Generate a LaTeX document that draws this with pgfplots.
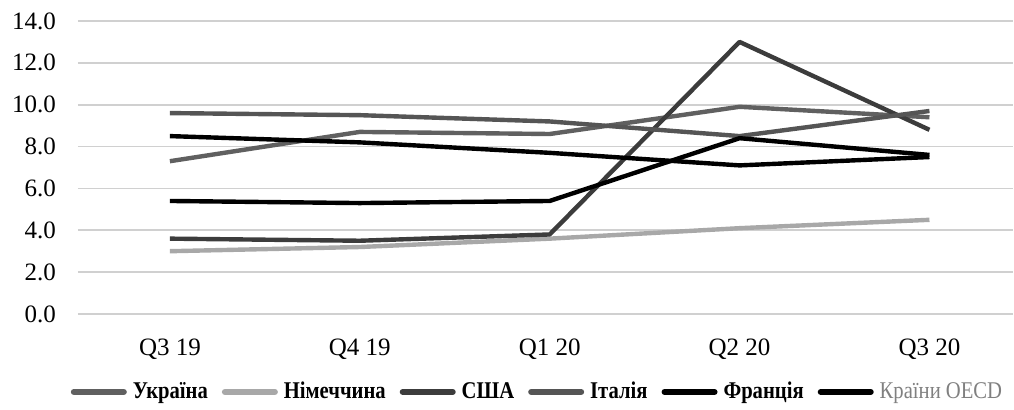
\documentclass[border=0pt]{standalone}
\usepackage{fontspec}
\setmainfont{Liberation Serif}
\newfontfamily\legfont[FakeStretch=0.86]{Liberation Serif}
\usepackage{pgfplots}
\pgfplotsset{compat=1.18}

\definecolor{ukr}{HTML}{606060}
\definecolor{ger}{HTML}{A8A8A8}
\definecolor{usa}{HTML}{3C3C3C}
\definecolor{ita}{HTML}{555555}
\definecolor{gridgray}{HTML}{D0D0D0}

\begin{document}
\begin{tikzpicture}
\begin{axis}[
    scale only axis,
    width=467.5bp, height=146.5bp,
    xmin=-0.484, xmax=4.44,
    ymin=0, ymax=14,
    ytick={0,2,...,14},
    xtick={0,1,2,3,4},
    xticklabels={Q3 19,Q4 19,Q1 20,Q2 20,Q3 20},
    axis line style={draw=none},
    major tick length=0pt,
    ymajorgrids, xmajorgrids=false,
    grid style={draw=gridgray, line width=0.8bp},
    tick label style={font=\fontsize{12.5bp}{14bp}\selectfont},
    xticklabel style={yshift=-9bp},
    yticklabel style={xshift=-7.5bp},
    /pgf/number format/.cd, fixed, fixed zerofill, precision=1, assume math mode=true,
    /pgfplots/.cd,
    legend columns=6,
    legend style={at={(0.4925,-0.266)}, anchor=center, draw=none, fill=none,
        font=\legfont\fontsize{12bp}{14bp}\selectfont\bfseries,
        /tikz/every even column/.append style={column sep=5bp},
        /tikz/every odd column/.append style={column sep=1bp}},
    legend image code/.code={\draw[#1, line width=3bp, line cap=round] (0bp,0bp) -- (25bp,0bp);},
    every axis plot/.append style={line width=2.2bp, line join=round},
]
\addplot[ukr] coordinates {(0,7.3) (1,8.7) (2,8.6) (3,9.9) (4,9.4)};
\addlegendentry{Україна}
\addplot[ger] coordinates {(0,3.0) (1,3.2) (2,3.6) (3,4.1) (4,4.5)};
\addlegendentry{Німеччина}
\addplot[usa] coordinates {(0,3.6) (1,3.5) (2,3.8) (3,13.0) (4,8.8)};
\addlegendentry{США}
\addplot[ita] coordinates {(0,9.6) (1,9.5) (2,9.2) (3,8.5) (4,9.7)};
\addlegendentry{Італія}
\addplot[black] coordinates {(0,8.5) (1,8.2) (2,7.7) (3,7.1) (4,7.5)};
\addlegendentry{Франція}
\addplot[black] coordinates {(0,5.4) (1,5.3) (2,5.4) (3,8.4) (4,7.6)};
\addlegendentry{\mdseries\color{gray}Країни OECD}
\end{axis}
\useasboundingbox (-39bp,-47.5bp) rectangle (468bp,157bp);
\end{tikzpicture}
\end{document}
